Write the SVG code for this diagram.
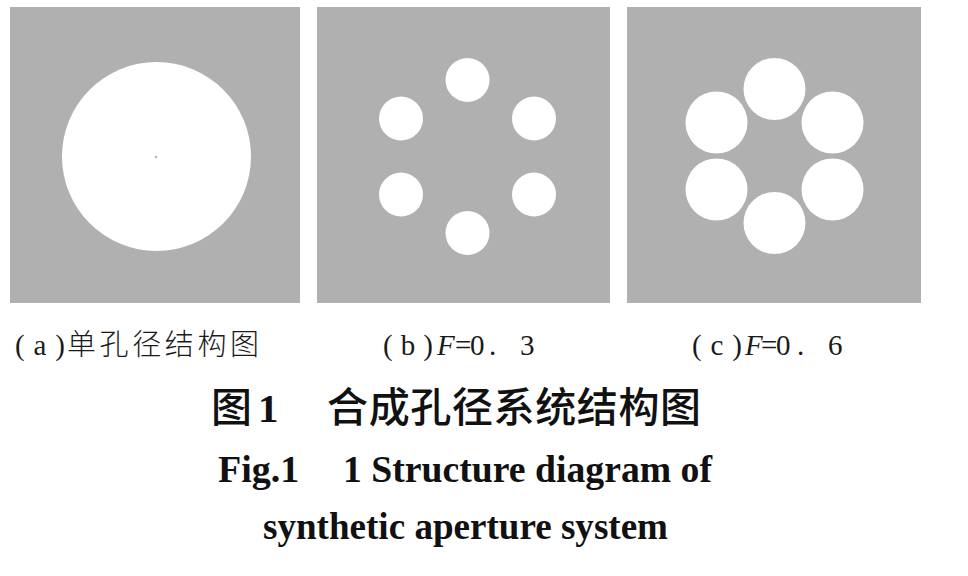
<svg xmlns="http://www.w3.org/2000/svg" width="968" height="576" viewBox="0 0 968 576">
<style>
.bg{fill:#b0b0b0}
.hole{fill:#ffffff}
.lbl{font-family:"Liberation Serif","Noto Sans CJK SC",serif;font-size:29px;fill:#1a1a1a}
.cjk{font-family:"Noto Sans CJK SC",sans-serif;font-weight:300}
.ttl{font-family:"Noto Sans CJK SC",sans-serif;font-size:41px;font-weight:500;fill:#111}
.num{font-family:"Liberation Serif",serif;font-weight:bold}
.en{font-family:"Liberation Serif",serif;font-size:38px;font-weight:bold;fill:#111}
</style>
<rect width="968" height="576" fill="#ffffff"/>
<g id="panel-a">
<rect class="bg" x="10" y="7" width="290" height="296"/>
<circle class="hole" cx="156.5" cy="156.5" r="94.5"/>
<circle cx="156" cy="157" r="1.2" fill="#b0b0b0"/>
</g>
<g id="panel-b">
<rect class="bg" x="317" y="7" width="293" height="296"/>
<circle class="hole" cx="467.5" cy="80" r="22"/>
<circle class="hole" cx="401" cy="118.5" r="22"/>
<circle class="hole" cx="534" cy="118.5" r="22"/>
<circle class="hole" cx="401" cy="194.5" r="22"/>
<circle class="hole" cx="534" cy="194.5" r="22"/>
<circle class="hole" cx="467.5" cy="233" r="22"/>
</g>
<g id="panel-c">
<rect class="bg" x="627" y="7" width="294" height="296"/>
<circle class="hole" cx="774.5" cy="89" r="31"/>
<circle class="hole" cx="716.5" cy="122.5" r="31"/>
<circle class="hole" cx="832.5" cy="122.5" r="31"/>
<circle class="hole" cx="716.5" cy="189.5" r="31"/>
<circle class="hole" cx="832.5" cy="189.5" r="31"/>
<circle class="hole" cx="774.5" cy="223" r="31"/>
</g>
<g id="labels">
<text class="lbl" y="355"><tspan x="15" textLength="50" lengthAdjust="spacing">(a)</tspan><tspan class="cjk" x="67" textLength="192" lengthAdjust="spacing">单孔径结构图</tspan></text>
<text class="lbl" y="355"><tspan x="383" textLength="50" lengthAdjust="spacing">(b)</tspan><tspan x="437" font-style="italic">F</tspan><tspan x="455 470 489 520">=0.3</tspan></text>
<text class="lbl" y="355"><tspan x="692" textLength="50" lengthAdjust="spacing">(c)</tspan><tspan x="745" font-style="italic">F</tspan><tspan x="761 776 797 828">=0.6</tspan></text>
</g>
<g id="caption">
<text class="ttl" y="422"><tspan x="211">图</tspan><tspan class="num" x="258">1</tspan><tspan x="327" textLength="374" lengthAdjust="spacing">合成孔径系统结构图</tspan></text>
<text class="en" y="482"><tspan x="218">Fig.1</tspan><tspan x="343" textLength="369" lengthAdjust="spacingAndGlyphs">1 Structure diagram of</tspan></text>
<text class="en" y="539" x="263" textLength="405" lengthAdjust="spacingAndGlyphs">synthetic aperture system</text>
</g>
</svg>
